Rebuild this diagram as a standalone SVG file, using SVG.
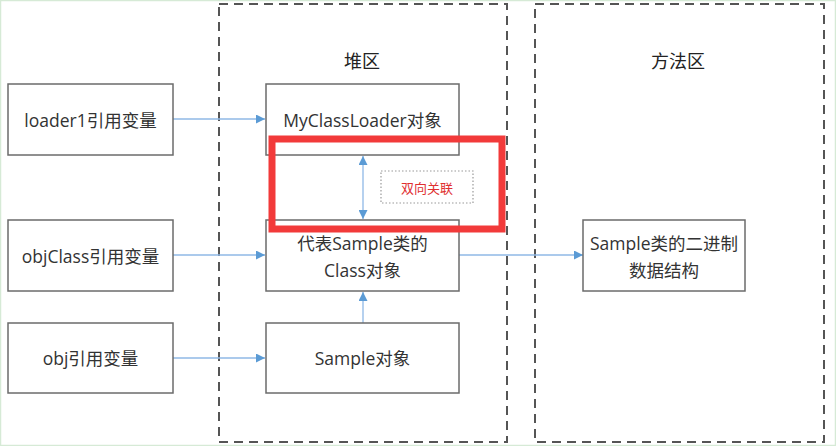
<svg xmlns="http://www.w3.org/2000/svg" width="836" height="446" viewBox="0 0 836 446">
<style>
.node rect{fill:#fff;stroke:#6b6b6b;stroke-width:1.5}
.node text{font-family:"Open Sans","Noto Sans CJK SC",sans-serif;font-size:17.5px;fill:#333;text-anchor:middle;dominant-baseline:central}
.area{fill:none;stroke:#555;stroke-width:2;stroke-dasharray:9 6}
.title{font-family:"Noto Sans CJK SC",sans-serif;font-size:18px;fill:#222;text-anchor:middle;dominant-baseline:central}
.conn line{stroke:#8fb8e6;stroke-width:1.3}
</style>
<defs>
<marker id="ah" viewBox="0 0 10 10" refX="10" refY="5" markerWidth="9" markerHeight="9" markerUnits="userSpaceOnUse" orient="auto-start-reverse">
<path d="M0,0 L10,5 L0,10 z" fill="#5b9bd5"/>
</marker>
</defs>
<rect x="0" y="0" width="836" height="446" fill="#fff"/>
<rect x="0.5" y="0.5" width="835" height="445" fill="none" stroke="#d6ead6" stroke-width="1.5"/>
<g id="heap-area">
<rect class="area" x="219" y="4" width="288" height="438"/>
<text class="title" x="362" y="60">堆区</text>
</g>
<g id="method-area">
<rect class="area" x="535" y="4" width="289" height="438"/>
<text class="title" x="678" y="60">方法区</text>
</g>
<g class="conn" id="connectors">
<line x1="173" y1="119" x2="265" y2="119" marker-end="url(#ah)"/>
<line x1="173" y1="255" x2="265" y2="255" marker-end="url(#ah)"/>
<line x1="173" y1="358" x2="265" y2="358" marker-end="url(#ah)"/>
<line x1="459" y1="255" x2="583" y2="255" marker-end="url(#ah)"/>
<line x1="363" y1="156" x2="363" y2="219" marker-start="url(#ah)" marker-end="url(#ah)"/>
<line x1="363" y1="323" x2="363" y2="292" marker-end="url(#ah)"/>
</g>
<g id="loader1" class="node"><rect x="8" y="84" width="165" height="71"/><text x="90.5" y="119.5">loader1引用变量</text></g>
<g id="objClass" class="node"><rect x="8" y="220" width="165" height="71"/><text x="90.5" y="255.5">objClass引用变量</text></g>
<g id="obj" class="node"><rect x="8" y="323" width="165" height="70"/><text x="90.5" y="358">obj引用变量</text></g>
<g id="myclassloader" class="node"><rect x="266" y="84" width="193" height="71"/><text x="362.5" y="119.5">MyClassLoader对象</text></g>
<g id="classobj" class="node"><rect x="266" y="220" width="193" height="71"/><text x="362.5" y="243">代表Sample类的</text><text x="362.5" y="270">Class对象</text></g>
<g id="sampleobj" class="node"><rect x="266" y="323" width="193" height="70"/><text x="362.5" y="358">Sample对象</text></g>
<g id="binary" class="node"><rect x="583" y="220" width="162" height="71"/><text x="664" y="243">Sample类的二进制</text><text x="664" y="270">数据结构</text></g>
<g id="label-bidir">
<rect x="381" y="171" width="92" height="32" fill="#fff" stroke="#999" stroke-width="1.2" stroke-dasharray="1.5 2"/>
<text x="427" y="187" font-family="Noto Sans CJK SC,sans-serif" font-size="13" fill="#e03030" text-anchor="middle" dominant-baseline="central">双向关联</text>
</g>
<rect id="highlight" x="272" y="139" width="230" height="90" fill="none" stroke="#f23a3a" stroke-width="7"/>
</svg>
